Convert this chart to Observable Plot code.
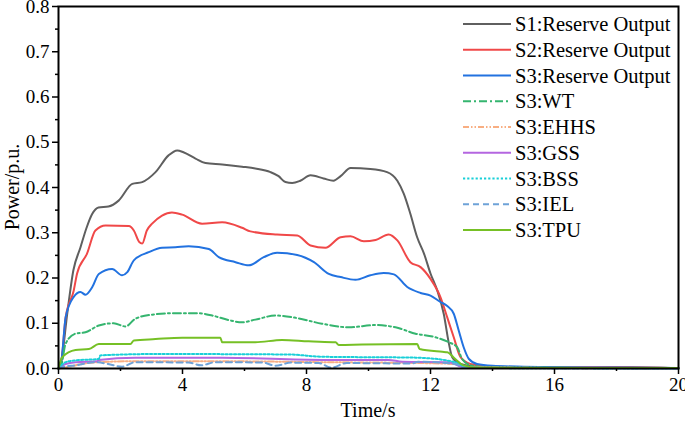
<!DOCTYPE html>
<html>
<head>
<meta charset="utf-8">
<script src="https://cdn.jsdelivr.net/npm/d3@7"></script>
<script src="https://cdn.jsdelivr.net/npm/@observablehq/plot@0.6"></script>
<style>
  html, body { margin: 0; padding: 0; background: #fff; }
  #chart { position: relative; width: 685px; height: 427px; }
</style>
</head>
<body>
<div id="chart"></div>
<script>
// Reserve output response over time (p.u.), sampled at the turning points of each trace.
const s1Time  = [0, 0.1, 0.28, 0.48, 0.71, 0.9, 1.09, 1.29, 1.61, 1.94, 2.38, 2.7, 3.13, 3.55, 3.83, 4.03, 4.42, 4.74, 5.28, 5.92, 6.35, 6.84, 7.1, 7.32, 7.54, 7.8, 8.13, 8.55, 8.87, 9.1, 9.42, 10.06, 10.6, 10.93, 11.14, 11.35, 11.57, 11.79, 12.0, 12.22, 12.43, 12.58, 12.7, 12.97, 13.5, 15, 17, 18.5, 20];
const s1Value = [0, 0.02, 0.12, 0.217, 0.268, 0.31, 0.342, 0.356, 0.358, 0.371, 0.408, 0.412, 0.434, 0.471, 0.482, 0.478, 0.464, 0.454, 0.451, 0.446, 0.442, 0.434, 0.425, 0.412, 0.41, 0.415, 0.427, 0.42, 0.415, 0.425, 0.443, 0.441, 0.434, 0.415, 0.386, 0.342, 0.29, 0.254, 0.21, 0.172, 0.12, 0.06, 0.025, 0.01, 0.004, 0.003, 0.002, 0.003, 0.001];

const s2Time  = [0, 0.1, 0.23, 0.49, 0.6, 0.92, 1.19, 1.52, 2.27, 2.43, 2.6, 2.7, 2.85, 3.02, 3.34, 3.66, 3.99, 4.63, 5.28, 5.92, 6.19, 7.05, 7.7, 8.13, 8.61, 9.1, 9.42, 9.85, 10.23, 10.65, 10.93, 11.35, 11.68, 12.0, 12.32, 12.54, 12.75, 12.97, 13.29, 14, 16, 18, 20];
const s2Value = [0, 0.02, 0.113, 0.172, 0.21, 0.254, 0.305, 0.316, 0.315, 0.305, 0.28, 0.276, 0.305, 0.32, 0.338, 0.345, 0.34, 0.32, 0.323, 0.311, 0.303, 0.296, 0.294, 0.272, 0.267, 0.29, 0.292, 0.281, 0.284, 0.296, 0.283, 0.235, 0.224, 0.198, 0.158, 0.113, 0.069, 0.025, 0.01, 0.004, 0.002, 0.003, 0.001];

const s3Time  = [0, 0.1, 0.23, 0.49, 0.71, 0.87, 1.09, 1.3, 1.73, 2.05, 2.22, 2.43, 2.91, 3.34, 3.77, 4.2, 4.85, 5.17, 5.71, 6.14, 6.62, 7.05, 7.7, 8.24, 8.72, 9.1, 9.58, 10.06, 10.49, 10.82, 11.25, 11.68, 12.0, 12.32, 12.54, 12.75, 12.91, 13.07, 13.24, 13.5, 14, 15, 16, 18, 20];
const s3Value = [0, 0.02, 0.113, 0.158, 0.169, 0.163, 0.18, 0.209, 0.22, 0.206, 0.213, 0.239, 0.257, 0.267, 0.268, 0.27, 0.264, 0.246, 0.235, 0.228, 0.246, 0.256, 0.251, 0.235, 0.209, 0.202, 0.196, 0.206, 0.211, 0.208, 0.18, 0.167, 0.161, 0.147, 0.138, 0.121, 0.084, 0.047, 0.021, 0.01, 0.006, 0.004, 0.003, 0.002, 0.001];

const wtTime  = [0, 0.1, 0.23, 0.55, 0.87, 1.3, 1.78, 2.16, 2.48, 3.02, 3.66, 4.53, 4.96, 5.49, 5.92, 6.35, 7.0, 7.65, 8.5, 9.37, 10.23, 10.87, 11.52, 12.16, 12.59, 12.86, 13.02, 13.3, 14, 20];
const wtValue = [0, 0.01, 0.055, 0.077, 0.08, 0.095, 0.1, 0.093, 0.11, 0.119, 0.122, 0.122, 0.117, 0.107, 0.102, 0.108, 0.117, 0.112, 0.099, 0.091, 0.096, 0.091, 0.077, 0.069, 0.058, 0.047, 0.021, 0.007, 0.002, 0.001];

const ehhsTime  = [0, 0.35, 0.76, 1.25, 2.48, 5.28, 8.5, 11.73, 12.8, 13.1, 20];
const ehhsValue = [0, 0.004, 0.01, 0.014, 0.016, 0.016, 0.014, 0.012, 0.01, 0.003, 0];

const gssTime  = [0, 0.23, 0.55, 1.25, 1.3, 2.48, 5.28, 8.5, 10.65, 11.09, 12.59, 13.0, 14, 20];
const gssValue = [0, 0.01, 0.014, 0.016, 0.019, 0.024, 0.024, 0.019, 0.019, 0.015, 0.014, 0.004, 0.001, 0];

const bssTime  = [0, 0.23, 0.55, 1.3, 1.35, 3.13, 7.43, 8.5, 11.52, 12.8, 13.1, 14, 20];
const bssValue = [0, 0.014, 0.018, 0.021, 0.029, 0.032, 0.031, 0.026, 0.024, 0.014, 0.004, 0.001, 0];

const ielTime  = [0, 0.12, 0.55, 1.19, 1.6, 2.05, 2.48, 4.2, 4.6, 5.06, 6.6, 7.0, 7.5, 8.4, 8.8, 9.3, 11.4, 11.6, 12.8, 13.1, 20];
const ielValue = [0, 0.003, 0.007, 0.014, 0.01, 0.004, 0.014, 0.013, 0.007, 0.014, 0.013, 0.006, 0.013, 0.012, 0.002, 0.012, 0.011, 0.015, 0.01, 0.002, 0];

const tpuTime  = [0, 0.12, 0.55, 0.98, 1.3, 2.32, 2.43, 3.13, 3.99, 5.22, 5.28, 6.35, 7.21, 8.07, 8.94, 9.04, 9.8, 11.57, 11.65, 12.38, 12.54, 12.8, 13.07, 13.5, 20];
const tpuValue = [0, 0.025, 0.041, 0.043, 0.054, 0.054, 0.062, 0.065, 0.068, 0.068, 0.058, 0.058, 0.063, 0.06, 0.058, 0.052, 0.053, 0.054, 0.043, 0.037, 0.036, 0.021, 0.007, 0.002, 0.001];

// Series names in legend order, with their styling.
const seriesNames = ["S1:Reserve Output", "S2:Reserve Output", "S3:Reserve Output", "S3:WT", "S3:EHHS", "S3:GSS", "S3:BSS", "S3:IEL", "S3:TPU"];
const seriesTimes = [s1Time, s2Time, s3Time, wtTime, ehhsTime, gssTime, bssTime, ielTime, tpuTime];
const seriesValues = [s1Value, s2Value, s3Value, wtValue, ehhsValue, gssValue, bssValue, ielValue, tpuValue];
const seriesColors = ["#5f5f5f", "#f04848", "#2272e0", "#35b56f", "#f8ae82", "#b466e0", "#19cfd8", "#6ea2d8", "#76c025"];
const seriesDashes = [null, null, null, "8,3,2,3", "6,2,1.5,2,1.5,2", null, "2.2,2", "6,4", null];

const xTicks = [0, 4, 8, 12, 16, 20];
const xMinorTicks = [2, 6, 10, 14, 18];
const yTicks = [0, 0.1, 0.2, 0.3, 0.4, 0.5, 0.6, 0.7, 0.8];
const yMinorTicks = [0.05, 0.15, 0.25, 0.35, 0.45, 0.55, 0.65, 0.75];

const xTitle = "Time/s";
const yTitle = "Power/p.u.";

const serif = "'Liberation Serif', 'Times New Roman', serif";

const seriesRows = seriesNames.map((name, i) =>
  seriesTimes[i].map((t, j) => ({ series: name, time: t, power: seriesValues[i][j] }))
);

const lineMarks = seriesRows.map((rows, i) =>
  Plot.line(rows, {
    x: "time",
    y: "power",
    stroke: seriesColors[i],
    strokeWidth: 2,
    strokeDasharray: seriesDashes[i] ?? undefined,
    curve: "monotone-x"
  })
);

const W = 685, H = 427;
const M = { top: 6, right: 7, bottom: 59, left: 58 };

const chart = Plot.plot({
  width: W,
  height: H,
  marginTop: M.top,
  marginRight: M.right,
  marginBottom: M.bottom,
  marginLeft: M.left,
  style: { background: "white", color: "black", overflow: "visible" },
  x: { domain: [0, 20] },
  y: { domain: [0, 0.8] },
  marks: [
    ...lineMarks,
    Plot.frame({ stroke: "black", strokeWidth: 2 }),
    Plot.axisX(xTicks, { tickSize: 6, tickPadding: 3, fontSize: 19, label: null }),
    Plot.axisX(xMinorTicks, { tickSize: 3, tickFormat: () => "", label: null }),
    Plot.axisY(yTicks, { tickSize: 6, tickPadding: 3, fontSize: 19, tickFormat: d => d.toFixed(1), label: null }),
    Plot.axisY(yMinorTicks, { tickSize: 3, tickFormat: () => "", label: null })
  ]
});

document.getElementById("chart").appendChild(chart);
const svg = d3.select(chart);

// Thicker tick strokes, matching the frame.
svg.selectAll("[aria-label='x-axis tick'], [aria-label='y-axis tick']")
  .attr("stroke-width", 1.5);

// Axis titles.
const titles = svg.append("g").attr("class", "axis-titles");
titles.append("text")
  .attr("x", M.left + (W - M.left - M.right) / 2)
  .attr("y", H - M.bottom + 42)
  .attr("dy", "0.35em")
  .style("text-anchor", "middle")
  .attr("font-size", 20)
  .attr("fill", "black")
  .text(xTitle);
titles.append("text")
  .attr("transform", `translate(12,${M.top + (H - M.top - M.bottom) / 2}) rotate(-90)`)
  .attr("dy", "0.35em")
  .style("text-anchor", "middle")
  .attr("font-size", 20)
  .attr("fill", "black")
  .text(yTitle);

// Legend in the upper-right corner of the plot area.
const legend = svg.append("g").attr("class", "legend");
const legendX = 463, legendTop = 24, legendStep = 25.75;
seriesNames.forEach((name, i) => {
  const y = legendTop + i * legendStep;
  legend.append("line")
    .attr("x1", legendX).attr("x2", legendX + 48)
    .attr("y1", y).attr("y2", y)
    .attr("stroke", seriesColors[i])
    .attr("stroke-width", 2)
    .attr("stroke-dasharray", seriesDashes[i]);
  legend.append("text")
    .attr("x", legendX + 52)
    .attr("y", y)
    .attr("dy", "0.35em")
    .style("text-anchor", "start")
    .attr("font-size", 20.5)
    .attr("fill", "black")
    .text(name);
});

// Serif type throughout, set inline so it wins over the library's defaults.
svg.selectAll("text")
  .style("font-family", serif)
  .style("font-weight", "normal")
  .style("stroke", "none");
</script>
</body>
</html>
